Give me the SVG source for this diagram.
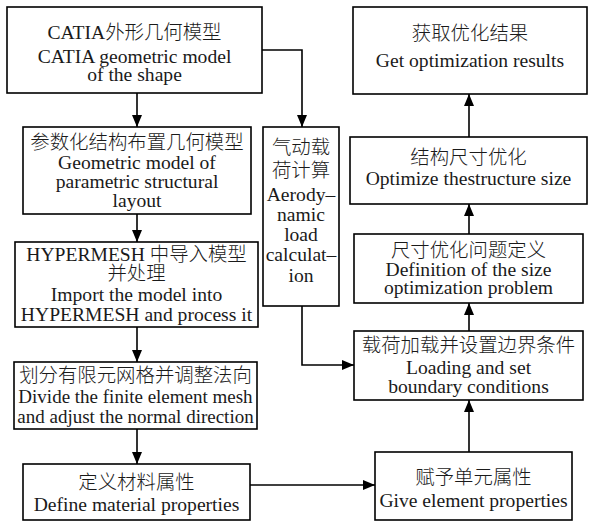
<svg xmlns="http://www.w3.org/2000/svg" width="589" height="522" viewBox="0 0 589 522">
<style>
rect{fill:#fff;stroke:#000;stroke-width:1.6}
text{font-family:"Liberation Serif","Noto Sans CJK SC",serif;font-size:19.6px;fill:#1a1a1a;text-anchor:middle}
.c{font-family:"Noto Sans CJK SC","Liberation Serif",serif;font-weight:300;font-size:19.4px}
.s{font-size:19px}
path{fill:none;stroke:#000;stroke-width:1.6}
</style>
<defs>
<marker id="ah" viewBox="0 0 12 10" refX="12" refY="5" markerWidth="12" markerHeight="10" markerUnits="userSpaceOnUse" orient="auto">
<path d="M0,0 L12,5 L0,10 Z" style="fill:#000;stroke:none"/>
</marker>
</defs>
<g id="connectors">
<path d="M137,93 V127" marker-end="url(#ah)"/>
<path d="M262,50 H302 V127" marker-end="url(#ah)"/>
<path d="M137,214 V242" marker-end="url(#ah)"/>
<path d="M137,327 V362" marker-end="url(#ah)"/>
<path d="M137,429 V464" marker-end="url(#ah)"/>
<path d="M250,485 H375" marker-end="url(#ah)"/>
<path d="M302,306 V365 H354" marker-end="url(#ah)"/>
<path d="M469,452 V400" marker-end="url(#ah)"/>
<path d="M469,331 V303" marker-end="url(#ah)"/>
<path d="M469,234 V204" marker-end="url(#ah)"/>
<path d="M469,137 V94" marker-end="url(#ah)"/>
</g>
<g id="n1">
<rect x="7" y="7" width="255" height="86"/>
<text x="134.5" y="39">CATIA<tspan class="c">外形几何模型</tspan></text>
<text x="134.5" y="63">CATIA geometric model</text>
<text x="134.5" y="81">of the shape</text>
</g>
<g id="n2">
<rect x="23" y="127" width="228" height="87"/>
<text class="c" x="137" y="149">参数化结构布置几何模型</text>
<text x="137" y="169">Geometric model of</text>
<text x="137" y="188">parametric structural</text>
<text x="137" y="207">layout</text>
</g>
<g id="n3">
<rect x="15" y="242" width="243" height="85"/>
<text x="136.5" y="261">HYPERMESH <tspan class="c">中导入模型</tspan></text>
<text class="c" x="136.5" y="280">并处理</text>
<text x="136.5" y="301">Import the model into</text>
<text x="136.5" y="321">HYPERMESH and process it</text>
</g>
<g id="n4">
<rect x="263" y="127" width="76" height="179"/>
<text class="c" x="301" y="154">气动载</text>
<text class="c" x="301" y="177">荷计算</text>
<text x="301" y="201">Aerody–</text>
<text x="301" y="221">namic</text>
<text x="301" y="241">load</text>
<text x="301" y="261">calculat–</text>
<text x="301" y="282">ion</text>
</g>
<g id="n5">
<rect x="14" y="362" width="243" height="67"/>
<text class="c" x="135.5" y="382">划分有限元网格并调整法向</text>
<text class="s" x="135.5" y="403">Divide the finite element mesh</text>
<text class="s" x="135.5" y="423">and adjust the normal direction</text>
</g>
<g id="n6">
<rect x="23" y="464" width="227" height="56"/>
<text class="c" x="136.5" y="489">定义材料属性</text>
<text x="136.5" y="511">Define material properties</text>
</g>
<g id="n7">
<rect x="375" y="452" width="197" height="68"/>
<text class="c" x="473.5" y="484">赋予单元属性</text>
<text x="473.5" y="507">Give element properties</text>
</g>
<g id="n8">
<rect x="354" y="331" width="229" height="69"/>
<text class="c" x="468.5" y="352">载荷加载并设置边界条件</text>
<text x="468.5" y="374">Loading and set</text>
<text x="468.5" y="393">boundary conditions</text>
</g>
<g id="n9">
<rect x="354" y="234" width="229" height="69"/>
<text class="c" x="468.5" y="257">尺寸优化问题定义</text>
<text x="468.5" y="276">Definition of the size</text>
<text x="468.5" y="294">optimization problem</text>
</g>
<g id="n10">
<rect x="350" y="137" width="237" height="67"/>
<text class="c" x="468.5" y="164">结构尺寸优化</text>
<text x="468.5" y="185">Optimize thestructure size</text>
</g>
<g id="n11">
<rect x="353" y="7" width="234" height="87"/>
<text class="c" x="470" y="40">获取优化结果</text>
<text x="470" y="67">Get optimization results</text>
</g>
</svg>
